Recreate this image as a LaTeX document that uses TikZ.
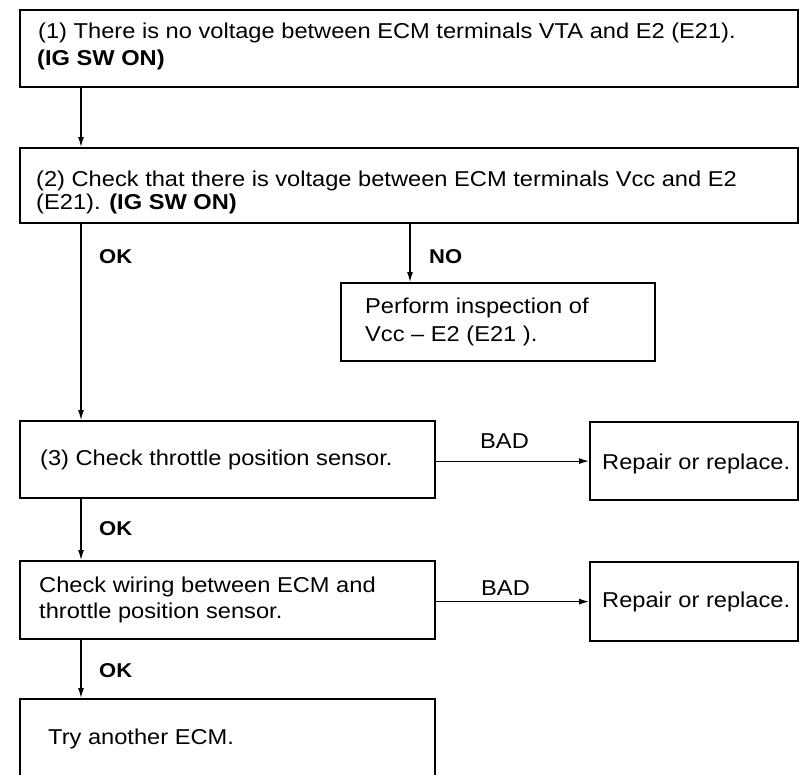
\documentclass[tikz,border=0pt]{standalone}
\usepackage{fontspec}
\setmainfont[FakeStretch=1.1]{Liberation Sans}
\usetikzlibrary{arrows.meta}
\tikzset{
  box/.style={draw, line width=2.2pt, inner sep=0pt, anchor=north west},
  txt/.style={inner sep=0pt, anchor=base west, font=\fontsize{21.5}{26}\selectfont},
  lbl/.style={inner sep=0pt, anchor=base west, font=\fontsize{20}{22}\selectfont\bfseries},
  blbl/.style={inner sep=0pt, anchor=base west, font=\fontsize{21.5}{26}\selectfont},
  arr/.style={line width=1.2pt, -{Latex[length=10pt,width=6pt]}}
}
\begin{document}
\begin{tikzpicture}[x=1pt,y=-1pt]
\useasboundingbox (0,0) rectangle (799,774);
% boxes
\node[box, minimum width=778pt, minimum height=77pt] (b1) at (19,9) {};
\node[box, minimum width=778pt, minimum height=75pt] (b2) at (19,147) {};
\node[box, minimum width=314pt, minimum height=78pt] (pf) at (340,282) {};
\node[box, minimum width=415pt, minimum height=77pt] (b3) at (19,420) {};
\node[box, minimum width=208pt, minimum height=78pt] (r1) at (589,421) {};
\node[box, minimum width=415pt, minimum height=78pt] (b4) at (19,560) {};
\node[box, minimum width=208pt, minimum height=79pt] (r2) at (589,561) {};
\node[box, minimum width=415pt, minimum height=110pt] (b5) at (19,698) {};
% texts
\node[txt] (t1a) at (38,38) {(1) There is no voltage between ECM terminals VTA and E2 (E21).};
\node[txt] (t1b) at (37,65) {\bfseries (IG SW ON)};
\node[txt] (t2a) at (36,186) {(2) Check that there is voltage between ECM terminals Vcc and E2};
\node[txt] (t2b) at (36,209) {(E21). \textbf{(IG SW ON)}};
\node[txt] (tpa) at (365,313) {Perform inspection of};
\node[txt] (tpb) at (365,341) {Vcc -- E2 (E21 ).};
\node[txt] (t3) at (40,465) {(3) Check throttle position sensor.};
\node[txt] (tr1) at (602,469) {Repair or replace.};
\node[txt] (t4a) at (39,592) {Check wiring between ECM and};
\node[txt] (t4b) at (39,618) {throttle position sensor.};
\node[txt] (tr2) at (602,607) {Repair or replace.};
\node[txt] (t5) at (48,744) {Try another ECM.};
% labels
\node[lbl] (ok1) at (99,263) {OK};
\node[lbl] (no1) at (429,263) {NO};
\node[lbl] (ok2) at (99,535) {OK};
\node[lbl] (ok3) at (99,677) {OK};
\node[blbl] (bad1) at (480,448) {BAD};
\node[blbl] (bad2) at (481,595) {BAD};
% connectors
\draw[arr] ([xshift=62pt]b1.south west) -- ([xshift=62pt]b2.north west);
\draw[arr] ([xshift=62pt]b2.south west) -- ([xshift=62pt]b3.north west);
\draw[arr] ([xshift=70pt]pf.north west |- b2.south) -- ([xshift=70pt]pf.north west);
\draw[arr] ([xshift=62pt]b3.south west) -- ([xshift=62pt]b4.north west);
\draw[arr] ([xshift=62pt]b4.south west) -- ([xshift=62pt]b5.north west);
\draw[arr] (b3.east |- r1.west) -- (r1.west);
\draw[arr] (b4.east |- r2.west) -- (r2.west);
\end{tikzpicture}
\end{document}
